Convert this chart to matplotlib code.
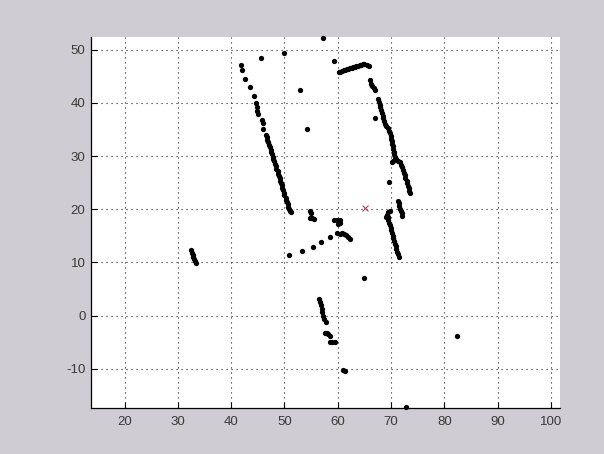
import matplotlib
matplotlib.use("Agg")
import matplotlib.pyplot as plt

plt.rcParams['axes.unicode_minus'] = False
plt.rcParams['font.family'] = ['Liberation Sans', 'DejaVu Sans']

# Scan points (x, y)
left_sparse_x = [41.8, 42.1, 42.6, 43.55, 44.3, 44.6, 44.8, 44.9, 45.05, 45.7, 45.9, 45.9]
left_sparse_y = [47.1, 46.2, 44.5, 42.9, 41.3, 40.0, 39.3, 38.5, 37.9, 36.8, 36.2, 35.1]

left_line_x = [46.6, 46.7, 46.8, 46.9, 47.1, 47.2, 47.4, 47.5, 47.7, 47.8, 47.9, 48.1,
               48.2, 48.4, 48.5, 48.7, 48.8, 48.9, 49.1, 49.2, 49.3, 49.5, 49.6, 49.8,
               49.9, 50.0, 50.2, 50.3, 50.4, 50.6, 50.7, 50.9, 51.0, 51.2]
left_line_y = [34.0, 33.5, 33.0, 32.6, 32.1, 31.7, 31.2, 30.8, 30.3, 29.9, 29.4, 29.0,
               28.5, 28.1, 27.6, 27.2, 26.7, 26.3, 25.8, 25.4, 24.9, 24.5, 24.0, 23.6,
               23.1, 22.7, 22.2, 21.8, 21.3, 20.9, 20.4, 20.0, 19.6, 19.4]

top_seg_x = [60.2, 60.5, 60.8, 61.1, 61.4, 61.7, 62.0, 62.3, 62.6, 62.9, 63.2, 63.5,
             63.8, 64.1, 64.4, 64.7, 65.0, 65.4, 65.8]
top_seg_y = [45.8, 45.9, 46.0, 46.1, 46.2, 46.3, 46.4, 46.5, 46.6, 46.7, 46.8, 46.9,
             47.0, 47.1, 47.2, 47.3, 47.3, 47.1, 46.9]

right_sparse_x = [66.0, 66.3, 66.5, 66.8, 67.0, 67.0, 69.6]
right_sparse_y = [44.3, 43.6, 43.2, 42.8, 42.4, 37.2, 25.1]

right_line_x = [67.5, 67.7, 67.9, 68.0, 68.2, 68.3, 68.4, 68.5, 68.7, 68.9, 69.1, 69.4,
                69.6, 69.8, 69.9, 70.0, 70.1, 70.2, 70.3, 70.4, 70.5, 70.6, 70.8, 71.0,
                71.3, 71.6, 71.9, 72.1, 72.3, 72.4, 72.6, 72.7, 72.9, 73.0, 73.1, 73.3,
                73.4, 73.5, 70.3, 70.1]
right_line_y = [40.7, 40.2, 39.6, 39.2, 38.6, 38.1, 37.6, 37.1, 36.6, 36.1, 35.7, 35.2,
                34.8, 34.3, 33.8, 33.3, 32.8, 32.3, 31.8, 31.3, 30.8, 30.3, 29.8, 29.4,
                29.1, 28.8, 28.4, 27.9, 27.4, 26.9, 26.4, 25.9, 25.4, 24.9, 24.4, 23.9,
                23.4, 23.0, 29.0, 28.9]

short_seg_x = [71.3, 71.4, 71.5, 71.6, 71.8, 72.0, 72.1]
short_seg_y = [21.6, 21.1, 20.6, 20.1, 19.6, 19.2, 18.8]

lower_right_x = [69.8, 69.5, 69.3, 69.1, 69.4, 69.5, 69.6, 69.8, 69.9, 70.0, 70.2, 70.3,
                 70.4, 70.6, 70.7, 70.9, 71.0, 71.2, 71.3, 71.5]
lower_right_y = [19.6, 19.4, 19.0, 18.6, 18.5, 18.0, 17.5, 17.0, 16.5, 16.0, 15.5, 15.0,
                 14.5, 14.0, 13.5, 13.0, 12.5, 12.0, 11.5, 11.0]

diag_x = [50.8, 53.3, 55.4, 56.9, 58.6, 59.9, 60.4, 60.8, 61.2, 61.6, 61.9, 62.3,
          59.3, 59.9, 60.2, 60.5, 60.4, 60.0]
diag_y = [11.3, 12.1, 12.9, 13.9, 14.8, 15.6, 15.3, 15.5, 15.4, 15.1, 14.7, 14.4,
          17.9, 17.9, 17.6, 17.9, 17.4, 17.2]

mid_cluster_x = [54.8, 54.9, 54.8, 55.2, 55.5]
mid_cluster_y = [19.6, 19.2, 18.4, 18.3, 18.2]

far_left_x = [32.5, 32.6, 32.8, 32.9, 33.1, 33.3, 33.4]
far_left_y = [12.3, 11.8, 11.3, 11.0, 10.6, 10.2, 9.8]

bottom_seg_x = [56.5, 56.6, 56.8, 57.0, 57.1, 57.3, 57.5, 57.7, 57.6, 57.9, 58.2, 58.5,
                58.6, 59.0, 59.4, 61.0, 61.3]
bottom_seg_y = [3.2, 2.6, 1.9, 1.2, 0.6, 0.0, -0.6, -1.3, -3.2, -3.3, -3.5, -3.8,
                -5.0, -5.0, -5.0, -10.2, -10.4]

isolated_x = [57.3, 45.6, 49.9, 59.25, 53.0, 54.15, 64.9, 82.3, 72.8]
isolated_y = [52.2, 48.5, 49.3, 47.8, 42.4, 35.1, 7.0, -3.9, -17.2]

robot_x = [65.2]
robot_y = [20.3]

x_ticks = [20, 30, 40, 50, 60, 70, 80, 90, 100]
y_ticks = [-10, 0, 10, 20, 30, 40, 50]

W, H = 604, 454
fig = plt.figure(figsize=(W / 100, H / 100), dpi=100)
fig.patch.set_facecolor('#d0ccd4')
ax = fig.add_axes([91 / W, 1 - 408 / H, 469 / W, 371 / H])
ax.set_facecolor('white')

xs = (left_sparse_x + left_line_x + top_seg_x + right_sparse_x + right_line_x + short_seg_x
      + lower_right_x + diag_x + mid_cluster_x + far_left_x + bottom_seg_x + isolated_x)
ys = (left_sparse_y + left_line_y + top_seg_y + right_sparse_y + right_line_y + short_seg_y
      + lower_right_y + diag_y + mid_cluster_y + far_left_y + bottom_seg_y + isolated_y)
ax.plot(xs, ys, linestyle='none', marker='o', markersize=3.8, color='black',
        markeredgewidth=0, zorder=3, clip_on=False)
ax.plot(robot_x, robot_y, linestyle='none', marker='x', markersize=5, color='#c04060',
        markeredgewidth=0.8, zorder=3)

ax.set_xlim(13.7, 101.7)
ax.set_ylim(-17.4, 52.4)
ax.set_xticks(x_ticks)
ax.set_yticks(y_ticks)
ax.grid(True, linestyle=(0, (1, 3.5)), color='#222222', linewidth=0.8)
ax.set_axisbelow(True)
for s in ['top', 'right']:
    ax.spines[s].set_visible(False)
for s in ['left', 'bottom']:
    ax.spines[s].set_color('black')
    ax.spines[s].set_linewidth(0.9)
ax.tick_params(direction='in', length=4, width=0.8, labelsize=9.5, labelcolor='#3a3a3a',
               color='black')
ax.tick_params(axis='y', pad=4)
ax.tick_params(axis='x', pad=6)

fig.savefig('out.png', dpi=100, facecolor=fig.get_facecolor())
